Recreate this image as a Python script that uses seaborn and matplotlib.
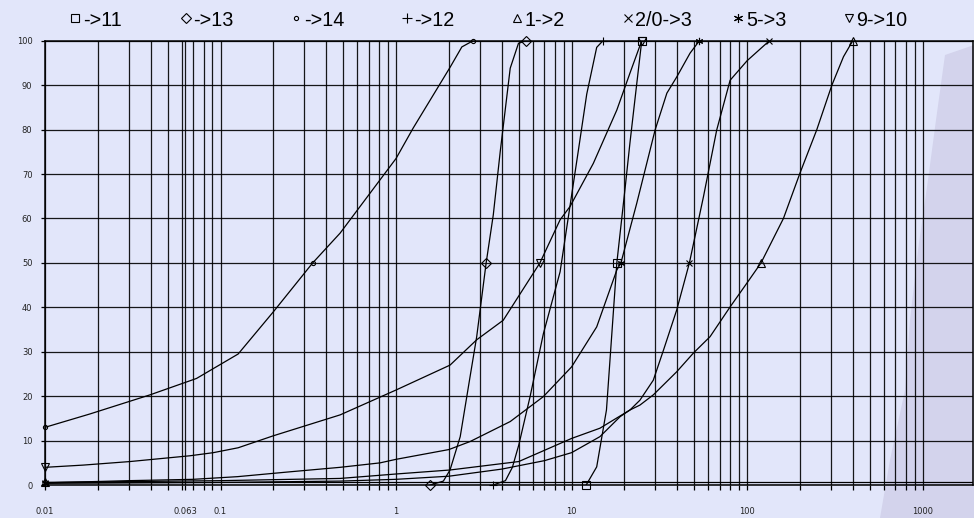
import matplotlib
matplotlib.use("Agg")
import matplotlib.pyplot as plt
import seaborn as sns
import numpy as np
import pandas as pd
from matplotlib.ticker import FixedLocator, FixedFormatter, NullFormatter
from matplotlib.lines import Line2D
from matplotlib.patches import Polygon

# ---------------- data ----------------
legend_labels = ["->11", "->13", "->14", "->12", "1->2", "2/0->3", "5->3", "9->10"]

s11_x = [12.1, 13.9, 15.8, 18.1, 20.2, 21.5, 23.3, 25.1]
s11_y = [0, 4.1, 16.9, 50, 67, 77, 89, 100]

s13_x = [1.56, 1.86, 2.03, 2.32, 2.64, 2.88, 3.26, 3.58, 3.92, 4.47, 4.98, 5.5]
s13_y = [0, 0.9, 3.4, 10.9, 24.4, 33.4, 50, 60.8, 75, 93.8, 99.4, 100]

s14_x = [0.01, 0.018, 0.0396, 0.073, 0.126, 0.2, 0.335, 0.48, 1.0, 1.25, 2.03, 2.37, 2.75]
s14_y = [13, 16, 20.3, 24, 29.5, 39, 50, 56.7, 73.5, 80.3, 94, 98.6, 100]

s12_x = [3.56, 4.2, 4.6, 5.0, 5.8, 6.9, 8.6, 10.9, 12.2, 13.9, 15.1]
s12_y = [0, 1.0, 4, 9, 19.9, 34, 48, 75, 88, 98.5, 100]

s1_2_x = [0.01, 0.1, 0.48, 1.0, 2.03, 5.0, 10, 14.5, 21.5, 24.5, 29.2, 39.7, 49.4, 61.5, 80, 99.5,
          120, 161, 200, 249, 304, 354, 400]
s1_2_y = [0.6, 1.0, 1.5, 2.5, 3.4, 5.3, 10.5, 12.8, 16.9, 18, 20.3, 25.5, 29.7, 33.4, 40.1, 45.4,
          50, 60, 70.2, 79.9, 90, 96.4, 100]

s2_3_x = [0.01, 0.1, 0.48, 1.0, 2.0, 4.0, 7.0, 10, 14.5, 18.9, 21.5, 24.5, 29.2, 33.4, 39.7, 46.9,
          56.4, 67.1, 80, 100, 134]
s2_3_y = [0.4, 0.6, 0.9, 1.3, 2.0, 3.6, 5.5, 7.3, 10.9, 15.4, 16.9, 19.1, 23.6, 30.4, 39.4, 50,
          64.9, 79.9, 91.1, 95.5, 100]

s5_3_x = [0.01, 0.03, 0.07, 0.125, 0.25, 0.48, 0.81, 1.0, 2.0, 2.64, 4.47, 6.9, 10, 13.9, 18.1, 19.1,
          23.5, 29.9, 34.9, 39.8, 47.3, 53.5]
s5_3_y = [0.5, 1.0, 1.3, 1.9, 3.0, 4.0, 5.0, 5.8, 8.0, 9.8, 14.3, 19.9, 26.6, 35.6, 48.4, 50,
          63.4, 79.9, 88.2, 91.9, 97.2, 100]

s9_10_x = [0.01, 0.0165, 0.0305, 0.067, 0.091, 0.126, 0.2, 0.48, 1.0, 2.03, 2.88, 4.08, 6.6, 8.6,
           9.8, 13.3, 18.1, 21.5, 25.1]
s9_10_y = [4, 4.5, 5.3, 6.6, 7.3, 8.4, 11.1, 15.8, 21.4, 27, 32.7, 37.1, 50, 59.7,
           62.7, 72.4, 84.4, 92.7, 100]

# marked points of each curve (start, 50 %, end)
m11_x, m11_y = [12.1, 18.1, 25.1], [0, 50, 100]
m13_x, m13_y = [1.56, 3.26, 5.5], [0, 50, 100]
m14_x, m14_y = [0.01, 0.335, 2.75], [13, 50, 100]
m12_x, m12_y = [3.56, 15.1], [0, 100]
m1_2_x, m1_2_y = [0.01, 120, 400], [0.6, 50, 100]
m2_3_x, m2_3_y = [0.01, 46.9, 134], [0.4, 50, 100]
m5_3_x, m5_3_y = [0.01, 19.1, 53.5], [0.5, 50, 100]
m9_10_x, m9_10_y = [0.01, 6.6, 25.1], [4, 50, 100]

x_major = [0.01, 0.063, 0.1, 1, 10, 100, 1000]
x_major_labels = ["0.01", "0.063", "0.1", "1", "10", "100", "1000"]
y_ticks = [0, 10, 20, 30, 40, 50, 60, 70, 80, 90, 100]

# ---------------- style ----------------
BG = "#E2E6FA"
sns.set_theme(style="white")
plt.rcParams["font.family"] = ["DejaVu Sans"]

series = [
    (s11_x, s11_y, m11_x, m11_y, "s", 5.2),
    (s13_x, s13_y, m13_x, m13_y, "D", 4.6),
    (s14_x, s14_y, m14_x, m14_y, "o", 3.0),
    (s12_x, s12_y, m12_x, m12_y, "+", 6.0),
    (s1_2_x, s1_2_y, m1_2_x, m1_2_y, "^", 5.2),
    (s2_3_x, s2_3_y, m2_3_x, m2_3_y, "x", 4.6),
    (s5_3_x, s5_3_y, m5_3_x, m5_3_y, (6, 2, 0), 5.2),
    (s9_10_x, s9_10_y, m9_10_x, m9_10_y, "v", 5.2),
]

fig = plt.figure(figsize=(9.74, 5.18), dpi=100, facecolor=BG)
W, H = 974.0, 518.0

# faint decorative silhouette in the background (right side)
sil = [(945, 55), (974, 45), (974, 518), (880, 518), (890, 460), (905, 390),
       (910, 320), (918, 250), (928, 180), (936, 120)]
fig.add_artist(Polygon([(px / W, 1 - py / H) for px, py in sil], closed=True,
                       transform=fig.transFigure, facecolor="#D3D3EC", edgecolor="none",
                       zorder=0))

ax = fig.add_axes([45 / W, (H - 485.1) / H, (972.7 - 45) / W, (485.1 - 40.7) / H])
ax.patch.set_alpha(0)
ax.set_xscale("log")
ax.set_xlim(0.01, 1928)
ax.set_ylim(0, 100)

# grid positions
minor = []
for dec in [0.01, 0.1, 1, 10, 100]:
    for k in range(2, 10):
        minor.append(k * dec)
ax.xaxis.set_major_locator(FixedLocator(x_major))
ax.xaxis.set_major_formatter(FixedFormatter(x_major_labels))
ax.xaxis.set_minor_locator(FixedLocator(minor))
ax.xaxis.set_minor_formatter(NullFormatter())
ax.yaxis.set_major_locator(FixedLocator(y_ticks))
ax.set_yticklabels([str(v) for v in y_ticks])

ax.grid(which="both", axis="x", color="black", lw=0.9, alpha=0.9)
ax.grid(which="major", axis="y", color="black", lw=0.9, alpha=0.9)
ax.set_axisbelow(True)
ax.tick_params(axis="x", which="both", direction="out", length=3.6, width=0.9,
               color="black", pad=12, labelsize=6, labelcolor="#222222", bottom=True)
ax.tick_params(axis="y", which="major", direction="out", length=3.0, width=0.9,
               color="black", pad=6, labelsize=6, labelcolor="#222222", left=True)
for s in ax.spines.values():
    s.set_color("black")
    s.set_linewidth(1.1)

# second bottom line of the frame
ax.axhline(0.65, color="black", lw=0.9)

for xs, ys, mx, my, mk, ms in series:
    sns.lineplot(x=xs, y=ys, ax=ax, color="black", lw=0.9, estimator=None,
                 sort=False, legend=False)
    ax.plot(mx, my, ls="none", marker=mk, ms=ms, mfc="none", mec="black",
            mew=0.8, clip_on=False, zorder=5)
ax.set_xlabel("")
ax.set_ylabel("")

# legend row on top
leg_ms = [5.5, 5.5, 3.0, 7.0, 6.0, 5.5, 6.5, 6.0]
for i, (lab, ser) in enumerate(zip(legend_labels, series)):
    sx = 75 + i * 110.5
    yc = 18.0
    fig.add_artist(Line2D([sx / W], [1 - yc / H], transform=fig.transFigure,
                          marker=ser[4], ms=leg_ms[i], mfc="none", mec="black",
                          mew=0.8, ls="none"))
    fig.text((sx + 8) / W, 1 - 25.7 / H, lab, fontsize=14.2,
             family=["Liberation Sans", "DejaVu Sans"], color="black",
             ha="left", va="baseline")

fig.savefig("out.png", dpi=100, facecolor=BG)
